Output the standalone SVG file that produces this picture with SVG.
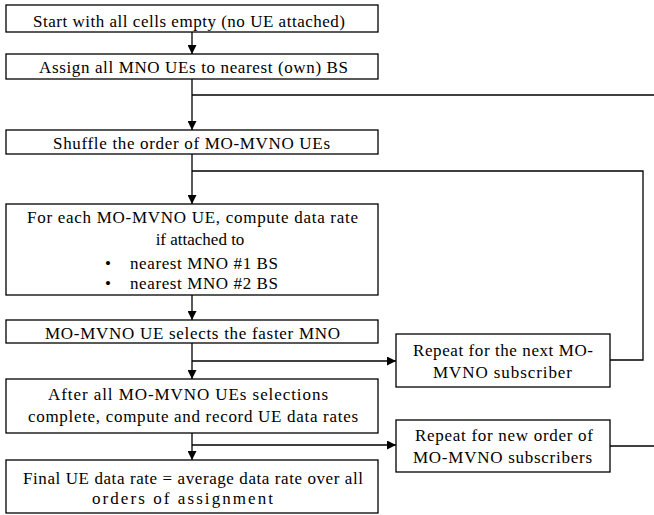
<svg xmlns="http://www.w3.org/2000/svg" width="654" height="515" viewBox="0 0 654 515">
<defs>
<marker id="ah" viewBox="0 0 10 10" refX="10" refY="5" markerWidth="9" markerHeight="9" markerUnits="userSpaceOnUse" orient="auto">
<path d="M0,0 L10,5 L0,10 Z" fill="#000"/>
</marker>
</defs>
<g id="connectors" fill="none" stroke="#000" stroke-width="1.3">
<line x1="192" y1="32" x2="192" y2="54" marker-end="url(#ah)"/>
<line x1="192" y1="79" x2="192" y2="130" marker-end="url(#ah)"/>
<line x1="192" y1="95" x2="654" y2="95"/>
<line x1="192" y1="154" x2="192" y2="204" marker-end="url(#ah)"/>
<polyline points="192,171 643,171 643,360 610,360"/>
<line x1="192" y1="295" x2="192" y2="320" marker-end="url(#ah)"/>
<line x1="192" y1="343" x2="192" y2="379" marker-end="url(#ah)"/>
<line x1="192" y1="361" x2="396" y2="361" marker-end="url(#ah)"/>
<line x1="192" y1="433" x2="192" y2="460" marker-end="url(#ah)"/>
<line x1="192" y1="445" x2="396" y2="445" marker-end="url(#ah)"/>
<line x1="610" y1="446" x2="654" y2="446"/>
</g>
<g id="n1"><rect x="6" y="5" width="372" height="27" fill="#fff" stroke="#000" stroke-width="1.3"/><text font-family="Liberation Serif" font-size="17" x="33" y="27" textLength="312">Start with all cells empty (no UE attached)</text></g>
<g id="n2"><rect x="6" y="54" width="372" height="25" fill="#fff" stroke="#000" stroke-width="1.3"/><text font-family="Liberation Serif" font-size="17" x="39" y="73" textLength="309">Assign all MNO UEs to nearest (own) BS</text></g>
<g id="n3"><rect x="6" y="130" width="372" height="24" fill="#fff" stroke="#000" stroke-width="1.3"/><text font-family="Liberation Serif" font-size="17" x="53" y="149" textLength="277">Shuffle the order of MO-MVNO UEs</text></g>
<g id="n4"><rect x="6" y="204" width="372" height="91" fill="#fff" stroke="#000" stroke-width="1.3"/>
<text font-family="Liberation Serif" font-size="17" x="27" y="223" textLength="331">For each MO-MVNO UE, compute data rate</text>
<text font-family="Liberation Serif" font-size="17" x="200" y="245" text-anchor="middle">if attached to</text>
<text font-family="Liberation Serif" font-size="17" x="108" y="269" text-anchor="middle">&#8226;</text><text font-family="Liberation Serif" font-size="17" x="130" y="269" textLength="148">nearest MNO #1 BS</text>
<text font-family="Liberation Serif" font-size="17" x="108" y="289" text-anchor="middle">&#8226;</text><text font-family="Liberation Serif" font-size="17" x="130" y="289" textLength="148">nearest MNO #2 BS</text>
</g>
<g id="n5"><rect x="6" y="320" width="372" height="23" fill="#fff" stroke="#000" stroke-width="1.3"/><text font-family="Liberation Serif" font-size="17" x="45" y="339" textLength="295">MO-MVNO UE selects the faster MNO</text></g>
<g id="n6"><rect x="6" y="379" width="372" height="54" fill="#fff" stroke="#000" stroke-width="1.3"/><text font-family="Liberation Serif" font-size="17" x="48" y="400" textLength="280">After all MO-MVNO UEs selections</text><text font-family="Liberation Serif" font-size="17" x="28" y="422" textLength="330">complete, compute and record UE data rates</text></g>
<g id="n7"><rect x="6" y="460" width="372" height="53" fill="#fff" stroke="#000" stroke-width="1.3"/><text font-family="Liberation Serif" font-size="17" x="23" y="484" textLength="340">Final UE data rate = average data rate over all</text><text font-family="Liberation Serif" font-size="17" x="92" y="504" textLength="181">orders of assignment</text></g>
<g id="r1"><rect x="396" y="334" width="214" height="53" fill="#fff" stroke="#000" stroke-width="1.3"/><text font-family="Liberation Serif" font-size="17" x="413" y="356" textLength="180">Repeat for the next MO-</text><text font-family="Liberation Serif" font-size="17" x="433" y="378" textLength="139">MVNO subscriber</text></g>
<g id="r2"><rect x="396" y="420" width="214" height="52" fill="#fff" stroke="#000" stroke-width="1.3"/><text font-family="Liberation Serif" font-size="17" x="415" y="441" textLength="178">Repeat for new order of</text><text font-family="Liberation Serif" font-size="17" x="413" y="463" textLength="179">MO-MVNO subscribers</text></g>
</svg>
